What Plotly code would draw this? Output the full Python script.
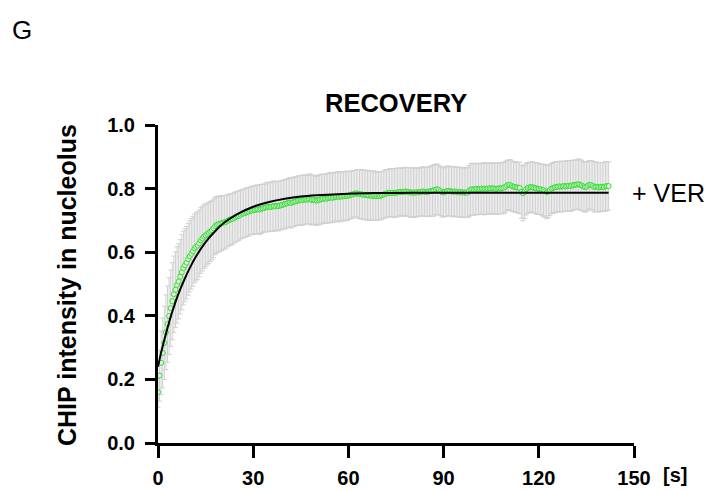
import plotly.graph_objects as go

# ---------------- data ----------------
FRAME_INTERVAL = 0.5  # seconds between frames

mean_intensity = [
    0.160, 0.212, 0.252, 0.283, 0.315, 0.348, 0.374, 0.399, 0.424, 0.446,
    0.468, 0.482, 0.497, 0.508, 0.523, 0.537, 0.550, 0.559, 0.567, 0.578,
    0.587, 0.595, 0.603, 0.612, 0.617, 0.621, 0.628, 0.637, 0.643, 0.649,
    0.653, 0.657, 0.661, 0.665, 0.669, 0.675, 0.682, 0.686, 0.688, 0.690,
    0.691, 0.693, 0.694, 0.696, 0.699, 0.702, 0.703, 0.705, 0.708, 0.711,
    0.713, 0.715, 0.718, 0.721, 0.722, 0.724, 0.726, 0.727, 0.730, 0.731,
    0.732, 0.733, 0.734, 0.735, 0.734, 0.736, 0.738, 0.739, 0.741, 0.742,
    0.743, 0.742, 0.744, 0.745, 0.744, 0.746, 0.745, 0.747, 0.748, 0.750,
    0.751, 0.753, 0.755, 0.756, 0.755, 0.757, 0.759, 0.760, 0.762, 0.763,
    0.764, 0.763, 0.765, 0.766, 0.765, 0.767, 0.766, 0.764, 0.765, 0.763,
    0.762, 0.764, 0.765, 0.767, 0.768, 0.769, 0.768, 0.770, 0.771, 0.772,
    0.771, 0.773, 0.774, 0.775, 0.774, 0.776, 0.775, 0.777, 0.776, 0.777,
    0.778, 0.779, 0.781, 0.782, 0.784, 0.785, 0.784, 0.783, 0.782, 0.781,
    0.780, 0.780, 0.779, 0.778, 0.779, 0.777, 0.778, 0.777, 0.776, 0.777,
    0.777, 0.779, 0.781, 0.783, 0.785, 0.786, 0.787, 0.786, 0.787, 0.786,
    0.787, 0.788, 0.789, 0.790, 0.789, 0.790, 0.791, 0.790, 0.789, 0.788,
    0.787, 0.788, 0.787, 0.789, 0.788, 0.789, 0.790, 0.791, 0.790, 0.789,
    0.790, 0.791, 0.792, 0.793, 0.795, 0.797, 0.798, 0.796, 0.792, 0.789,
    0.788, 0.790, 0.792, 0.793, 0.792, 0.791, 0.790, 0.791, 0.790, 0.789,
    0.788, 0.789, 0.788, 0.787, 0.788, 0.787, 0.792, 0.797, 0.798, 0.797,
    0.798, 0.799, 0.798, 0.799, 0.800, 0.799, 0.800, 0.799, 0.800, 0.801,
    0.800, 0.801, 0.800, 0.799, 0.800, 0.801, 0.800, 0.801, 0.803, 0.806,
    0.810, 0.812, 0.811, 0.808, 0.806, 0.805, 0.804, 0.803, 0.802, 0.790,
    0.785, 0.790, 0.798, 0.802, 0.804, 0.805, 0.804, 0.803, 0.801, 0.800,
    0.799, 0.798, 0.796, 0.795, 0.792, 0.789, 0.791, 0.795, 0.800, 0.802,
    0.804, 0.805, 0.806, 0.807, 0.806, 0.807, 0.808, 0.807, 0.808, 0.809,
    0.808, 0.810, 0.811, 0.812, 0.813, 0.814, 0.812, 0.810, 0.807, 0.805,
    0.806, 0.809, 0.812, 0.811, 0.808, 0.805, 0.806, 0.805, 0.804, 0.805,
    0.806, 0.805, 0.807, 0.808, 0.808,
]

sd_intensity = [
    0.048, 0.080, 0.100, 0.110, 0.115, 0.118, 0.120, 0.121, 0.120, 0.121,
    0.120, 0.119, 0.120, 0.118, 0.117, 0.118, 0.116, 0.115, 0.114, 0.113,
    0.112, 0.111, 0.110, 0.108, 0.107, 0.106, 0.105, 0.103, 0.102, 0.100,
    0.099, 0.097, 0.096, 0.094, 0.093, 0.092, 0.090, 0.089, 0.088, 0.087,
    0.086, 0.085, 0.084, 0.083, 0.082, 0.081, 0.081, 0.080, 0.079, 0.079,
    0.078, 0.078, 0.077, 0.077, 0.076, 0.077, 0.076, 0.076, 0.075, 0.076,
    0.076, 0.075, 0.077, 0.076, 0.078, 0.077, 0.076, 0.075, 0.077, 0.078,
    0.077, 0.076, 0.078, 0.079, 0.077, 0.076, 0.078, 0.077, 0.076, 0.077,
    0.078, 0.077, 0.076, 0.078, 0.079, 0.077, 0.078, 0.076, 0.077, 0.078,
    0.077, 0.079, 0.078, 0.077, 0.076, 0.078, 0.080, 0.078, 0.077, 0.076,
    0.078, 0.077, 0.079, 0.078, 0.077, 0.076, 0.078, 0.077, 0.079, 0.078,
    0.077, 0.078, 0.076, 0.078, 0.079, 0.077, 0.078, 0.076, 0.077, 0.078,
    0.076, 0.075, 0.074, 0.075, 0.073, 0.074, 0.076, 0.077, 0.078, 0.077,
    0.078, 0.077, 0.079, 0.078, 0.077, 0.076, 0.078, 0.077, 0.076, 0.075,
    0.076, 0.075, 0.074, 0.076, 0.075, 0.074, 0.076, 0.075, 0.076, 0.077,
    0.076, 0.077, 0.075, 0.074, 0.076, 0.077, 0.075, 0.076, 0.077, 0.078,
    0.077, 0.076, 0.078, 0.077, 0.076, 0.075, 0.077, 0.078, 0.076, 0.077,
    0.078, 0.077, 0.079, 0.080, 0.081, 0.080, 0.079, 0.078, 0.077, 0.078,
    0.077, 0.078, 0.079, 0.078, 0.077, 0.078, 0.079, 0.078, 0.077, 0.078,
    0.079, 0.078, 0.077, 0.078, 0.079, 0.078, 0.080, 0.081, 0.082, 0.081,
    0.080, 0.081, 0.080, 0.079, 0.080, 0.081, 0.082, 0.080, 0.079, 0.080,
    0.081, 0.080, 0.079, 0.080, 0.081, 0.080, 0.079, 0.080, 0.081, 0.080,
    0.079, 0.078, 0.080, 0.079, 0.078, 0.080, 0.079, 0.080, 0.081, 0.084,
    0.086, 0.084, 0.081, 0.080, 0.079, 0.078, 0.080, 0.079, 0.080, 0.081,
    0.080, 0.079, 0.081, 0.082, 0.083, 0.084, 0.082, 0.080, 0.079, 0.080,
    0.079, 0.080, 0.078, 0.079, 0.080, 0.079, 0.078, 0.079, 0.080, 0.079,
    0.080, 0.079, 0.078, 0.077, 0.078, 0.079, 0.080, 0.079, 0.078, 0.079,
    0.078, 0.077, 0.076, 0.077, 0.078, 0.079, 0.078, 0.077, 0.078, 0.077,
    0.076, 0.077, 0.078, 0.077, 0.076,
]

time_s = [round(i * FRAME_INTERVAL, 3) for i in range(len(mean_intensity))]

# fitted recovery curve, read at a few times
fit_time = [0, 1, 2, 3, 4, 5, 6, 7, 8, 10, 12, 15, 18, 21, 25, 30, 35, 40, 45,
            50, 60, 70, 80, 100, 120, 142]
fit_value = [0.240, 0.285, 0.325, 0.362, 0.397, 0.428, 0.457, 0.483, 0.507,
             0.550, 0.587, 0.632, 0.666, 0.694, 0.720, 0.743, 0.758, 0.768,
             0.775, 0.779, 0.784, 0.786, 0.787, 0.787, 0.787, 0.787]

x_ticks = [0, 30, 60, 90, 120, 150]
y_ticks = [0.0, 0.2, 0.4, 0.6, 0.8, 1.0]

FONT = "Liberation Sans, Arial, Helvetica, sans-serif"

W, H = 720, 491
L, R, T, B = 158, 86, 125, 48
pw, ph = W - L - R, H - T - B


def px_to_paper(px, py):
    return (px - L) / pw, (H - B - py) / ph


fig = go.Figure()

fig.add_trace(go.Scatter(
    x=time_s, y=mean_intensity, mode="markers",
    marker=dict(symbol="circle", size=5, color="rgba(215,250,210,1)",
                line=dict(color="#3cd83c", width=1)),
    error_y=dict(type="data", array=sd_intensity, visible=True,
                 color="#d0d0d0", thickness=1, width=2.5),
    cliponaxis=False, showlegend=False,
))

fig.add_trace(go.Scatter(
    x=fit_time, y=fit_value, mode="lines", line_shape="spline",
    line=dict(color="black", width=2), cliponaxis=False, showlegend=False,
))

tickfont = dict(family=FONT, size=20, color="black", weight="bold")

ann = []
x, y = px_to_paper(396, 103)
ann.append(dict(text="RECOVERY", x=x, y=y, xref="paper", yref="paper",
                showarrow=False, xanchor="center", yanchor="middle",
                font=dict(family=FONT, size=25.5, color="black", weight="bold")))
x, y = px_to_paper(661, 475)
ann.append(dict(text="[s]", x=x, y=y, xref="paper", yref="paper",
                showarrow=False, xanchor="left", yanchor="middle",
                font=dict(family=FONT, size=20, color="black", weight="bold")))
x, y = px_to_paper(630, 193)
ann.append(dict(text="+ VER", x=x, y=y, xref="paper", yref="paper",
                showarrow=False, xanchor="left", yanchor="middle",
                font=dict(family=FONT, size=25, color="black")))
x, y = px_to_paper(10, 30)
ann.append(dict(text="G", x=x, y=y, xref="paper", yref="paper",
                showarrow=False, xanchor="left", yanchor="middle",
                font=dict(family=FONT, size=26, color="black")))
x, y = px_to_paper(67, 285)
ann.append(dict(text="CHIP intensity in nucleolus", x=x, y=y,
                xref="paper", yref="paper", textangle=-90,
                showarrow=False, xanchor="center", yanchor="middle",
                font=dict(family=FONT, size=25, color="black", weight="bold")))

axis_common = dict(
    showgrid=False, zeroline=False, showline=True, linecolor="black",
    linewidth=3, ticks="outside", tickwidth=3, tickcolor="black",
    tickfont=tickfont, automargin=False,
)

fig.update_layout(
    width=W, height=H,
    margin=dict(l=L, r=R, t=T, b=B, pad=0),
    paper_bgcolor="white", plot_bgcolor="white",
    xaxis=dict(range=[0, 150], tickvals=x_ticks, ticklen=12,
               ticklabelstandoff=3, **axis_common),
    yaxis=dict(range=[0, 1.0], tickvals=y_ticks, tickformat=".1f",
               ticklen=10, ticklabelstandoff=6, **axis_common),
    annotations=ann,
)

fig.write_html("out.html")
